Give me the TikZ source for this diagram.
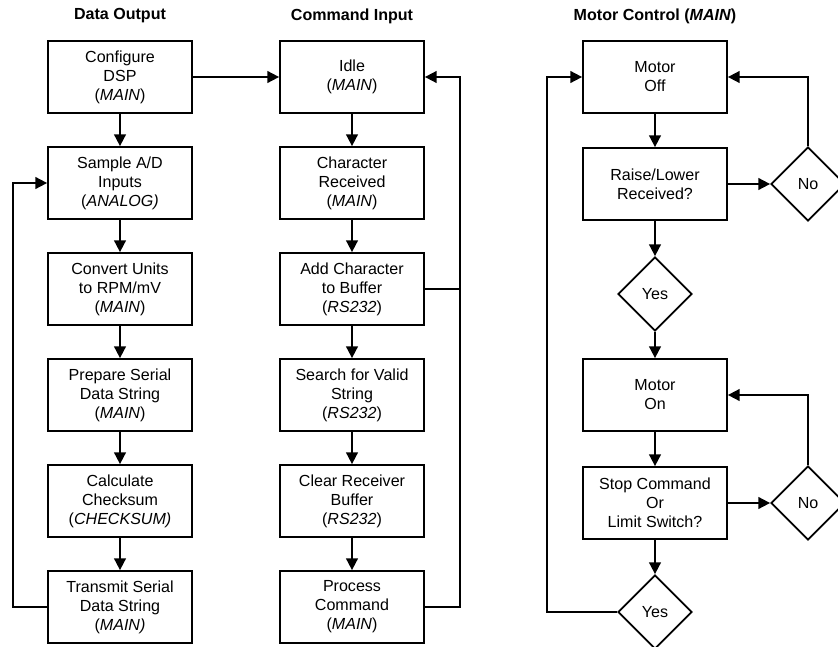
\documentclass[tikz,border=0pt]{standalone}
\usepackage{fontspec}
\setmainfont{Liberation Sans}
\usepackage{tikz}
\usetikzlibrary{arrows.meta,shapes.geometric}

\begin{document}
\begin{tikzpicture}[
        x=0.03cm, y=-0.03cm,
        every node/.style = {font=\fontsize{13.7}{16.2}\selectfont},
        block/.style = {draw, rectangle, minimum width=4.32cm, minimum height=2.16cm, inner sep=0pt, align=center, line width=1.5pt},
        choice/.style = {draw, diamond, minimum width=2.22cm, minimum height=2.22cm, inner sep=0pt, line width=1.5pt},
        title/.style = {font=\fontsize{13.7}{16.2}\selectfont\bfseries},
        arrow/.style = {line width=1.5pt, -{Triangle[length=10pt,width=10pt]}},
        line/.style = {line width=1.5pt}
        ]
        \useasboundingbox (0,0) rectangle (838,647);

        % column titles
        \node[title] (t1) at (120,16) {Data Output};
        \node[title] (t2) at (352,16) {Command Input};
        \node[title] (t3) at (655,16) {Motor Control (\textit{MAIN})};

        % data output
        \node[block] (config)   at (120,77)  {Configure\\DSP\\(\textit{MAIN})};
        \node[block] (sample)   at (120,183) {Sample A/D\\Inputs\\(\textit{ANALOG)}};
        \node[block] (convert)  at (120,289) {Convert Units\\to RPM/mV\\(\textit{MAIN})};
        \node[block] (prepare)  at (120,395) {Prepare Serial\\Data String\\(\textit{MAIN})};
        \node[block] (checksum) at (120,501) {Calculate\\Checksum\\(\textit{CHECKSUM)}};
        \node[block] (transmit) at (120,607) {Transmit Serial\\Data String\\(\textit{MAIN)}};

        % command input
        \node[block] (idle)    at (352,77)  {Idle\\(\textit{MAIN})};
        \node[block] (charrx)  at (352,183) {Character\\Received\\(\textit{MAIN})};
        \node[block] (addchar) at (352,289) {Add Character\\to Buffer\\(\textit{RS232})};
        \node[block] (search)  at (352,395) {Search for Valid\\String\\(\textit{RS232})};
        \node[block] (clear)   at (352,501) {Clear Receiver\\Buffer\\(\textit{RS232})};
        \node[block] (process) at (352,607) {Process\\Command\\(\textit{MAIN})};

        % motor control
        \node[block]  (motoroff) at (655,77)  {Motor\\Off};
        \node[block]  (raise)    at (655,184) {Raise/Lower\\Received?};
        \node[choice] (yes1)     at (655,294) {Yes};
        \node[choice] (no1)      at (808,184) {No};
        \node[block]  (motoron)  at (655,395) {Motor\\On};
        \node[block]  (stop)     at (655,503) {Stop Command\\Or\\Limit Switch?};
        \node[choice] (yes2)     at (655,612) {Yes};
        \node[choice] (no2)      at (808,503) {No};

        \coordinate (back1) at (13,607);
        \coordinate (back2) at (460,607);
        \coordinate (back3) at (547,612);

        \draw[arrow] (config) -- (sample);
        \draw[arrow] (sample) -- (convert);
        \draw[arrow] (convert) -- (prepare);
        \draw[arrow] (prepare) -- (checksum);
        \draw[arrow] (checksum) -- (transmit);
        \draw[arrow] (transmit.west) -- (back1) |- (sample.west);
        \draw[arrow] (config) -- (idle);

        \draw[arrow] (idle) -- (charrx);
        \draw[arrow] (charrx) -- (addchar);
        \draw[arrow] (addchar) -- (search);
        \draw[arrow] (search) -- (clear);
        \draw[arrow] (clear) -- (process);
        \draw[arrow] (process.east) -- (back2) |- (idle.east);
        \draw[line]  (addchar.east) -- (addchar.east -| back2);

        \draw[arrow] (motoroff) -- (raise);
        \draw[arrow] (raise) -- (yes1);
        \draw[arrow] (raise) -- (no1);
        \draw[arrow] (no1.north) |- (motoroff.east);
        \draw[arrow] (yes1) -- (motoron);
        \draw[arrow] (motoron) -- (stop);
        \draw[arrow] (stop) -- (yes2);
        \draw[arrow] (stop) -- (no2);
        \draw[arrow] (no2.north) |- (motoron.east);
        \draw[arrow] (yes2.west) -- (back3) |- (motoroff.west);
    \end{tikzpicture}
\end{document}
